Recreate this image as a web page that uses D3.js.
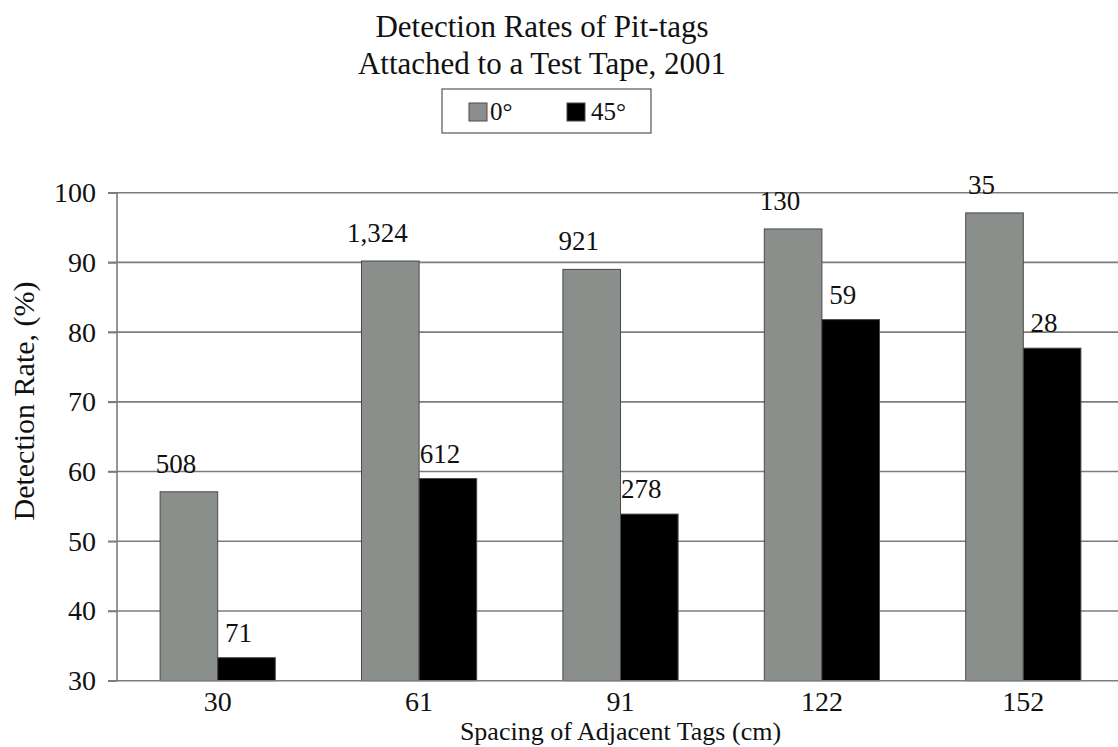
<!DOCTYPE html>
<html>
<head>
<meta charset="utf-8">
<script src="https://cdn.jsdelivr.net/npm/d3@7"></script>
<style>
  html, body { margin: 0; padding: 0; background: #ffffff; }
  svg { display: block; }
  text { font-family: "Liberation Serif", "Times New Roman", Times, serif; fill: #111; }
</style>
</head>
<body>
<svg id="chart" width="1118" height="747"></svg>
<script>
// ---- data ----
const categories = ["30", "61", "91", "122", "152"];
const seriesNames = ["0°", "45°"];
const rate0 = [57.1, 90.2, 89.0, 94.8, 97.1];
const rate45 = [33.3, 59.0, 53.9, 81.8, 77.7];
const count0 = ["508", "1,324", "921", "130", "35"];
const count45 = ["71", "612", "278", "59", "28"];
const yTicks = [30, 40, 50, 60, 70, 80, 90, 100];
const titleLines = ["Detection Rates of Pit-tags", "Attached to a Test Tape, 2001"];
const xTitle = "Spacing of Adjacent Tags (cm)";
const yTitle = "Detection Rate, (%)";

const colors = ["#8b8f8b", "#000000"];
const labelDx = [-13, -8];   // per-series label nudge
const labelDy = [-19, -16];
const FONT = '"Liberation Serif", "Times New Roman", Times, serif';

const svg = d3.select("#chart");
const W = 1118, H = 747;
const plot = { left: 117, right: 1124, top: 192.7, bottom: 680.7 };

const x = d3.scaleBand().domain(categories).range([plot.left, plot.right])
  .paddingInner(0.428).paddingOuter(0.214);
const xs = d3.scaleBand().domain(seriesNames).range([0, x.bandwidth()]);
const y = d3.scaleLinear().domain([30, 100]).range([plot.bottom, plot.top]);

// grid lines
const grid = svg.append("g");
grid.selectAll("line").data(yTicks.filter(t => t > 30)).join("line")
  .attr("x1", plot.left - 9).attr("x2", W + 10)
  .attr("y1", d => y(d)).attr("y2", d => y(d))
  .attr("stroke", "#7c7c7c").attr("stroke-width", 1.6);

// y axis labels
const yAxis = d3.axisLeft(y).tickValues(yTicks).tickSize(9).tickPadding(12).tickFormat(d3.format("d"));
const gy = svg.append("g").attr("transform", `translate(${plot.left},0)`).call(yAxis);
gy.select(".domain").remove();
gy.selectAll(".tick line").attr("stroke", "#7c7c7c").attr("stroke-width", 1.6);
gy.selectAll(".tick text").style("font-family", FONT).style("font-size", "28px").attr("fill", "#111");

// bars
const rows = categories.map((c, i) => ({ cat: c, vals: [
  { s: seriesNames[0], k: 0, v: rate0[i], n: count0[i] },
  { s: seriesNames[1], k: 1, v: rate45[i], n: count45[i] } ] }));

const groups = svg.append("g").selectAll("g").data(rows).join("g")
  .attr("transform", d => `translate(${x(d.cat)},0)`);

groups.selectAll("rect").data(d => d.vals).join("rect")
  .attr("x", d => xs(d.s)).attr("width", xs.bandwidth())
  .attr("y", d => y(d.v)).attr("height", d => y(30) - y(d.v))
  .attr("fill", d => colors[d.k])
  .attr("stroke", "#4a4a4a").attr("stroke-width", 1);

groups.selectAll("text.count").data(d => d.vals).join("text")
  .attr("class", "count")
  .attr("x", d => xs(d.s) + xs.bandwidth() / 2 + labelDx[d.k])
  .attr("y", d => y(d.v) + labelDy[d.k])
  .attr("text-anchor", "middle")
  .style("font-size", "27px")
  .text(d => d.n);

// axis lines
svg.append("line").attr("x1", plot.left).attr("x2", plot.left)
  .attr("y1", plot.top).attr("y2", plot.bottom)
  .attr("stroke", "#7c7c7c").attr("stroke-width", 1.6);
svg.append("line").attr("x1", plot.left - 9).attr("x2", W + 10)
  .attr("y1", plot.bottom).attr("y2", plot.bottom)
  .attr("stroke", "#7c7c7c").attr("stroke-width", 1.6);

// x axis labels
const xAxis = d3.axisBottom(x).tickSize(0).tickPadding(10);
const gx = svg.append("g").attr("transform", `translate(0,${plot.bottom})`).call(xAxis);
gx.select(".domain").remove();
gx.selectAll(".tick text").style("font-family", FONT).style("font-size", "28px").attr("fill", "#111");

// axis titles
svg.append("text").attr("x", (plot.left + plot.right) / 2).attr("y", 740)
  .attr("text-anchor", "middle").style("font-size", "26px").text(xTitle);
svg.append("text").attr("transform", "translate(23,401) rotate(-90)")
  .attr("text-anchor", "middle").attr("dominant-baseline", "central")
  .style("font-size", "30px").text(yTitle);

// title
svg.append("g").selectAll("text").data(titleLines).join("text")
  .attr("x", 542).attr("y", (d, i) => 37 + i * 37)
  .attr("text-anchor", "middle").style("font-size", "31px").text(d => d);

// legend
const lg = svg.append("g").attr("transform", "translate(442,89)");
lg.append("rect").attr("width", 209).attr("height", 44)
  .attr("fill", "#fff").attr("stroke", "#555").attr("stroke-width", 1.2);
const li = lg.selectAll("g").data(seriesNames).join("g")
  .attr("transform", (d, i) => `translate(${27 + i * 98},14)`);
li.append("rect").attr("width", 18).attr("height", 18)
  .attr("fill", (d, i) => colors[i]).attr("stroke", "#4a4a4a").attr("stroke-width", 1);
li.append("text").attr("x", (d, i) => 21 + i * 3).attr("y", 17).style("font-size", "25px").text(d => d);
</script>
</body>
</html>
